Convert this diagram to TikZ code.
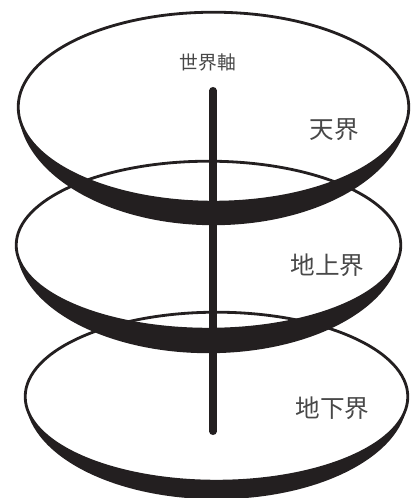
\documentclass[tikz,border=0pt]{standalone}
\usepackage{fontspec}
\newfontfamily\jpfont{Noto Sans CJK JP}
\definecolor{ink}{HTML}{231F20}
\definecolor{txt}{HTML}{484848}
\tikzset{
  faceline/.style={draw=ink, line width=2.4pt},
  axisline/.style={draw=ink, line width=6pt, line cap=round},
  biglabel/.style={inner sep=0pt, text=txt, font=\jpfont\fontsize{21}{21}\selectfont},
  smalllabel/.style={inner sep=0pt, text=txt, font=\jpfont\fontsize{16}{16}\selectfont},
}
% disc: #1 cx, #2 cy, #3 rx, #4 ry, #5 rim thickness at the front
\newcommand{\worlddisc}[5]{%
  \begin{scope}
    \clip (#1-#3-6, #2) rectangle (#1+#3+6, #2+#4+#5+6);
    \fill[ink, even odd rule] (#1,#2) ellipse [x radius=#3, y radius=#4]
                             (#1,#2) ellipse [x radius=#3, y radius=#4+#5];
  \end{scope}
  \draw[faceline] (#1,#2) ellipse [x radius=#3, y radius=#4];
}
\begin{document}
\begin{tikzpicture}[x=0.03cm, y=-0.03cm]
  \useasboundingbox (0,0) rectangle (415,498);
  % discs
  \worlddisc{213.5}{107.2}{195.3}{95}{23}
  \worlddisc{208.5}{245.2}{192.3}{84}{24}
  \worlddisc{216.5}{396.7}{191.3}{84.5}{18}
  % world axis
  \coordinate (axtop) at (213,90.5);
  \coordinate (axbot) at (213,431.5);
  \draw[axisline] (axtop) -- (axbot);
  % labels
  \node[smalllabel] (axislabel) at (208,62) {世界軸};
  \node[biglabel] (heaven) at (334,130) {天界};
  \node[biglabel] (earth) at (327.5,265) {地上界};
  \node[biglabel] (under) at (332.5,408) {地下界};
\end{tikzpicture}
\end{document}
